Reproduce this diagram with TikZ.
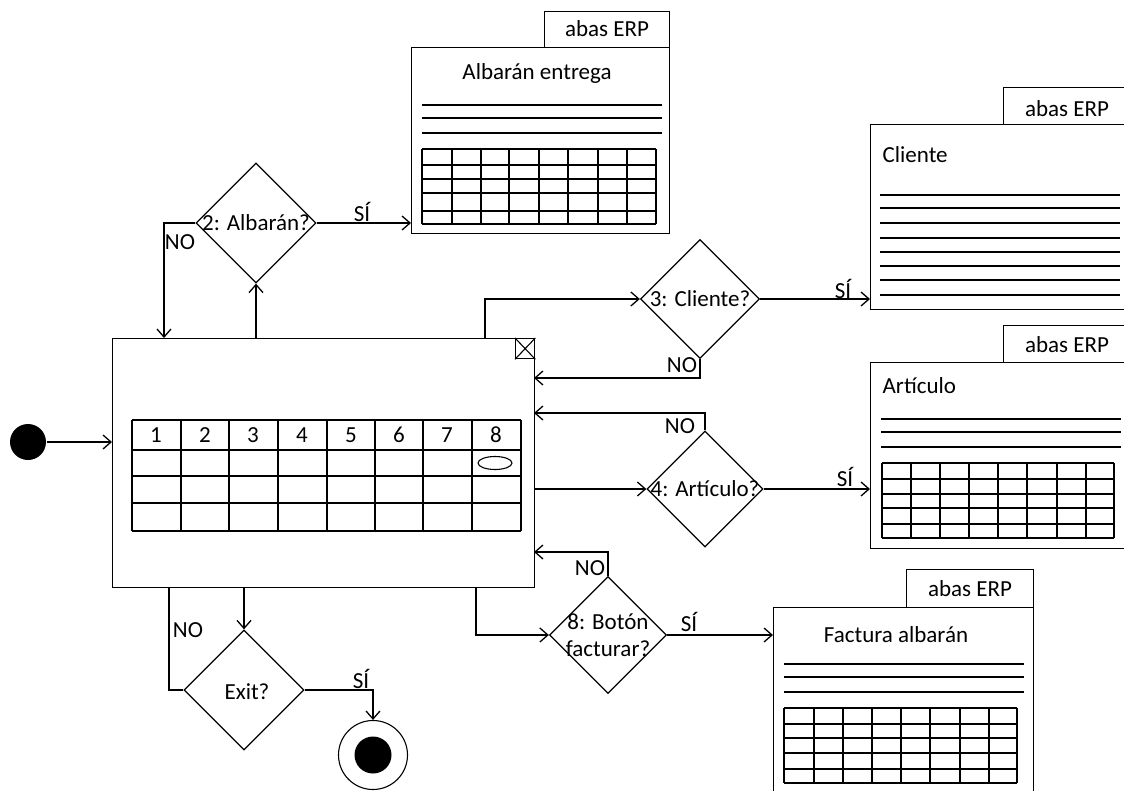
\documentclass[tikz,border=0pt]{standalone}
\usepackage{fontspec}
\setmainfont{Carlito}
\usetikzlibrary{shapes.geometric,arrows.meta}

\begin{document}
\begin{tikzpicture}[x=1pt,y=-1pt,line width=1.3pt,
  arr/.style={-{Straight Barb[length=8pt,width=14pt]}},
  txt/.style={font=\fontsize{23}{26}\selectfont,inner sep=0pt},
  decision/.style={draw,diamond,minimum width=#1,minimum height=#1,inner sep=0pt,aspect=1},
  box/.style args={#1x#2}{draw,rectangle,inner sep=0pt,anchor=north west,minimum width=#1,minimum height=#2},
  thin/.style={line width=1.1pt}]

\useasboundingbox (0,0) rectangle (1124,790);
\fill[white] (0,0) rectangle (1124,790);
\clip (0,0) rectangle (1124,790);

% ---------- main window ----------
\node[box=422x249] (main) at (112,338) {};
\node[box=19x20] (close) at (515,338) {};
\draw[thin] (close.north west) -- (close.south east) (close.north east) -- (close.south west);
\foreach \x in {132,181,229,278,327,375,423,472,521}
  \draw (\x,420) -- (\x,531);
\foreach \y in {420,450,476,503,531}
  \draw (132,\y) -- (521,\y);
\foreach \n/\x in {1/156,2/205,3/253,4/302,5/351,6/399,7/447,8/496}
  \node[txt] (h\n) at (\x,435) {\n};
\draw[thin] (495,463) ellipse [x radius=17,y radius=6.5];

% ---------- start / end ----------
\node[circle,fill=black,minimum size=36pt,inner sep=0pt] (start) at (28,442) {};
\node[circle,draw,line width=1.1pt,minimum size=69pt,inner sep=0pt] (endc) at (373,755) {};
\node[circle,fill=black,minimum size=37pt,inner sep=0pt] (endin) at (endc) {};

% ---------- Albarán entrega ----------
\node[box=125x36] (albtab) at (544,11) {};
\node[txt] at (607,29) {abas ERP};
\node[box=258x186] (albwin) at (411,47) {};
\node[txt] at (537,73) {Albarán entrega};
\foreach \y in {105,118,133} \draw (422,\y) -- (662,\y);
\foreach \x in {422,452,481,509,539,568,598,627,656} \draw (\x,149) -- (\x,224);
\foreach \y in {149,165,179,193,211,224} \draw (422,\y) -- (656,\y);

% ---------- Cliente ----------
\node[box=137x37] (clitab) at (1003,87) {};
\node[txt] at (1067,109) {abas ERP};
\node[box=270x185] (cliwin) at (870,124) {};
\node[txt,anchor=west] at (882,155) {Cliente};
\foreach \y in {195,208,223,238,252,266,280,295} \draw (880,\y) -- (1120,\y);

% ---------- Artículo ----------
\node[box=137x37] (arttab) at (1003,325) {};
\node[txt] at (1067,345) {abas ERP};
\node[box=270x186] (artwin) at (870,362) {};
\node[txt,anchor=west] at (882,386) {Artículo};
\foreach \y in {419,432,447} \draw (881,\y) -- (1121,\y);
\foreach \x in {882,911,940,969,998,1027,1057,1086,1114} \draw (\x,463) -- (\x,538);
\foreach \y in {463,479,494,508,524,538} \draw (882,\y) -- (1114,\y);

% ---------- Factura albarán ----------
\node[box=127x38] (factab) at (906,569) {};
\node[txt] at (970,589) {abas ERP};
\node[box=260x200] (facwin) at (773,607) {};
\node[txt] at (896,635) {Factura albarán};
\foreach \y in {664,677,692} \draw (784,\y) -- (1024,\y);
\foreach \x in {784,814,843,872,901,930,960,989,1017} \draw (\x,708) -- (\x,783);
\foreach \y in {708,724,738,753,769,783} \draw (784,\y) -- (1017,\y);

% ---------- decisions ----------
\node[decision=120pt] (dalb) at (256,223) {};
\node[txt] at (dalb) {2: Albarán?};
\node[decision=119pt] (dcli) at (700,299) {};
\node[txt] at (dcli) {3: Cliente?};
\node[decision=116pt] (dart) at (705,489) {};
\node[txt] at (dart) {4: Artículo?};
\node[decision=117pt] (dbot) at (608,635) {};
\node[txt,align=center,font=\fontsize{23}{27}\selectfont] at (dbot) {8: Botón\\facturar?};
\node[decision=120pt] (dexit) at (244,690) {};
\node[txt] at (247,692) {Exit?};

% ---------- connectors ----------
\draw[arr] (start.east) -- (main.west |- start.east);

% 2: Albarán?
\coordinate (albno) at (164,338);
\draw[arr] (main.north -| dalb.south) -- (dalb.south);
\draw[arr] (dalb.west) -| (albno);
\draw[arr] (dalb.east) -- (albwin.west |- dalb.east);
\node[txt] at (362,212) {SÍ};
\node[txt] at (180,242) {NO};

% 3: Cliente?
\coordinate (cliup) at (485,338);
\coordinate (clino) at (534,378);
\draw[arr] (cliup) |- (dcli.west);
\draw[arr] (dcli.east) -- (cliwin.west |- dcli.east);
\draw[arr] (dcli.south) |- (clino);
\node[txt] at (843,289) {SÍ};
\node[txt] at (682,365) {NO};

% 4: Artículo?
\coordinate (artno) at (534,413);
\draw[arr] (dart.north) |- (artno);
\draw[arr] (main.east |- dart.west) -- (dart.west);
\draw[arr] (dart.east) -- (artwin.west |- dart.east);
\node[txt] at (845,477) {SÍ};
\node[txt] at (680,426) {NO};

% 8: Botón facturar?
\coordinate (botno) at (534,552);
\coordinate (botdown) at (476,587);
\draw[arr] (dbot.north) |- (botno);
\draw[arr] (botdown) |- (dbot.west);
\draw[arr] (dbot.east) -- (facwin.west |- dbot.east);
\node[txt] at (689,622) {SÍ};
\node[txt] at (590,568) {NO};

% Exit?
\coordinate (exno) at (169,587);
\draw[arr] (main.south -| dexit.north) -- (dexit.north);
\draw (dexit.west) -| (exno);
\draw[arr] (dexit.east) -| (endc.north);
\node[txt] at (361,679) {SÍ};
\node[txt] at (188,630) {NO};
\end{tikzpicture}
\end{document}
